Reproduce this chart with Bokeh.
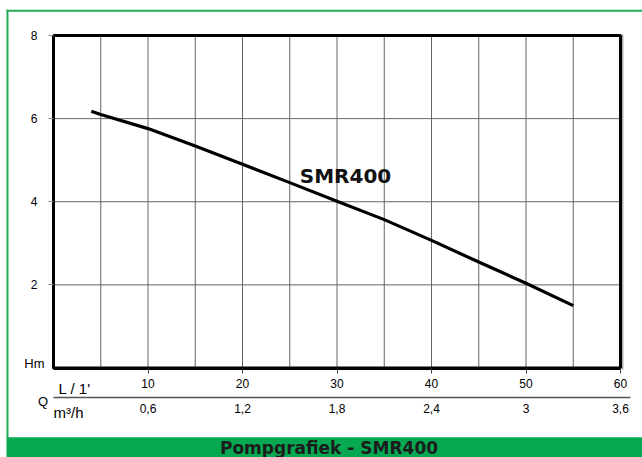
from bokeh.plotting import figure
from bokeh.models import Range1d, LinearAxis, FixedTicker
from bokeh.core.properties import value
from bokeh.embed import file_html
from bokeh.resources import INLINE

# ---- data ----
flow_lpm = [4, 5, 10, 15, 20, 25, 30, 35, 40, 45, 50, 55]
head_m = [6.18, 6.10, 5.76, 5.34, 4.90, 4.46, 4.01, 3.57, 3.07, 2.55, 2.04, 1.50]
x_ticks = [10, 20, 30, 40, 50, 60]
m3h_labels = ["0,6", "1,2", "1,8", "2,4", "3", "3,6"]
y_ticks = [2, 4, 6, 8]
x_grid = [5, 10, 15, 20, 25, 30, 35, 40, 45, 50, 55]
y_grid = [2, 4, 6]
X_MAX, Y_MAX = 60, 8
curve_label = "SMR400"
footer_text = "Pompgrafiek - SMR400"

# ---- layout (screen pixels of the page) ----
W, H = 642, 457
OFF = 0
SX0, SX1 = 53.0, 620.0      # screen x of Q=0 and Q=60
SY0, SY1 = 367.5, 35.0      # screen y of H=0 and H=8
kx = (SX1 - SX0) / X_MAX
ky = (SY0 - SY1) / Y_MAX

def px2x(sx):
    return (sx - SX0) / kx

def px2y(sy):
    return (SY0 - sy) / ky

GREEN = "#06a852"
FONT = "Liberation Sans"

p = figure(width=W, height=H, output_backend="svg", toolbar_location=None,
           x_axis_type=None, y_axis_type=None,
           x_range=Range1d(px2x(OFF), px2x(OFF + W)),
           y_range=Range1d(px2y(OFF + H), px2y(OFF)),
           min_border=0, min_border_left=0, min_border_right=0,
           min_border_top=0, min_border_bottom=0)
p.outline_line_color = None
p.background_fill_color = "white"
p.border_fill_color = "white"

# green frame decorations
p.quad(left=[px2x(6)], right=[px2x(OFF + W)], top=[px2y(9.2)], bottom=[px2y(11.2)],
       fill_color="#22ad55", line_color=None)
p.quad(left=[px2x(6)], right=[px2x(8)], top=[px2y(9.2)], bottom=[px2y(437)],
       fill_color="#22ad55", line_color=None)
p.quad(left=[px2x(6)], right=[px2x(OFF + W)], top=[px2y(436.7)], bottom=[px2y(OFF + H)],
       fill_color=GREEN, line_color=None)

# grid lines
p.segment(x0=x_grid, y0=[0] * len(x_grid), x1=x_grid, y1=[Y_MAX] * len(x_grid),
          line_color="#666666", line_width=1)
p.segment(x0=[0] * len(y_grid), y0=y_grid, x1=[X_MAX] * len(y_grid), y1=y_grid,
          line_color="#666666", line_width=1)

# curve
p.line(flow_lpm, head_m, line_color="black", line_width=3.2, line_join="round")

# shadow + frame
p.segment(x0=[px2x(622.2)], y0=[px2y(34)], x1=[px2x(622.2)], y1=[px2y(369)],
          line_color="#aaaaaa", line_width=1.5)
p.quad(left=[0], right=[X_MAX], bottom=[0], top=[Y_MAX], fill_color=None,
       line_color="black", line_width=3)

# axes
yaxis = LinearAxis(fixed_location=0, ticker=FixedTicker(ticks=y_ticks), bounds=(0, Y_MAX))
yaxis.axis_line_color = "black"
yaxis.axis_line_width = 3
yaxis.major_tick_out = 5
yaxis.major_tick_in = 0
yaxis.major_tick_line_color = "#888888"
yaxis.minor_tick_line_color = None
yaxis.major_label_standoff = 11
yaxis.major_label_text_font = FONT
yaxis.major_label_text_font_size = "12px"
yaxis.major_label_text_color = "black"
p.add_layout(yaxis, "left")

xaxis = LinearAxis(fixed_location=0, ticker=FixedTicker(ticks=x_ticks), bounds=(0, X_MAX))
xaxis.axis_line_color = "black"
xaxis.axis_line_width = 3
xaxis.major_tick_out = 5
xaxis.major_tick_in = 0
xaxis.major_tick_line_color = "#444444"
xaxis.minor_tick_line_color = None
xaxis.major_label_standoff = 6
xaxis.major_label_text_font = FONT
xaxis.major_label_text_font_size = "12px"
xaxis.major_label_text_color = "black"
p.add_layout(xaxis, "below")

x2axis = LinearAxis(fixed_location=px2y(397), ticker=FixedTicker(ticks=x_ticks),
                    bounds=(0, px2x(630)))
x2axis.major_label_overrides = {t: lab for t, lab in zip(x_ticks, m3h_labels)}
x2axis.axis_line_color = "#555555"
x2axis.axis_line_width = 1.5
x2axis.major_tick_line_color = None
x2axis.major_tick_out = 0
x2axis.major_tick_in = 0
x2axis.minor_tick_line_color = None
x2axis.minor_tick_out = 0
x2axis.major_label_standoff = 6
x2axis.major_label_text_font = FONT
x2axis.major_label_text_font_size = "12px"
x2axis.major_label_text_color = "black"
p.add_layout(x2axis, "below")

# axis unit texts
p.text(x=[px2x(44)], y=[px2y(362.5)], text=["Hm"], text_align="right",
       text_baseline="middle", text_font=value(FONT), text_font_size="13px",
       text_color="black")
p.text(x=[px2x(42.5)], y=[px2y(401)], text=["Q"], text_align="center",
       text_baseline="middle", text_font=value(FONT), text_font_size="13px",
       text_color="black")
p.text(x=[px2x(58)], y=[px2y(388)], text=["L / 1'"], text_align="left",
       text_baseline="middle", text_font=value(FONT), text_font_size="15px",
       text_color="black")
p.text(x=[px2x(53)], y=[px2y(411.5)], text=["m³/h"], text_align="left",
       text_baseline="middle", text_font=value(FONT), text_font_size="15px",
       text_color="black")

# curve label
p.text(x=[px2x(299.3)], y=[px2y(175)], text=[curve_label], text_align="left",
       text_baseline="alphabetic", text_font=value("DejaVu Sans"),
       text_font_style="bold", text_font_size="20px", text_color="#111111")

# footer band text
p.text(x=[px2x(328.5)], y=[px2y(447.3)], text=[footer_text], text_align="center",
       text_baseline="middle", text_font=value("DejaVu Sans"),
       text_font_style="bold", text_font_size="17px", text_color="#1c1c1c")

open("out.html", "w").write(file_html(p, INLINE))
